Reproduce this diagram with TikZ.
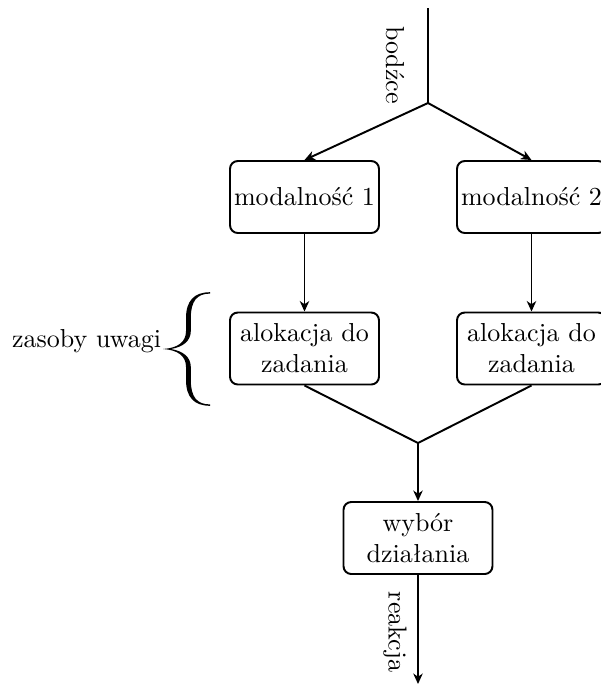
\documentclass[tikz,border=0pt]{standalone}
\usetikzlibrary{arrows.meta}
\begin{document}
\begin{tikzpicture}[x=0.3846pt,y=-0.3846pt, line width=0.75pt,
  >={Stealth[length=4pt, width=3.6pt, inset=1.2pt]},
  box/.style={draw, rounded corners=3pt, align=center, minimum width=57.3pt, minimum height=27.7pt, inner sep=1pt},
  lbl/.style={inner sep=0pt}]
\useasboundingbox (0,0) rectangle (600,686);
\coordinate (top) at (428,8);
\coordinate (split) at (428,103);
\node[box] (m1) at (304.5,197) {modalność 1};
\node[box] (m2) at (531.5,197) {modalność 2};
\node[box] (a1) at (304.5,348.5) {alokacja do\\zadania};
\node[box] (a2) at (531.5,348.5) {alokacja do\\zadania};
\coordinate (merge) at (418,443);
\node[box] (w) at (418,538) {wybór\\działania};
\coordinate (bottom) at (418,684);
\draw (top) -- (split);
\draw[->] (split) -- (m1.north);
\draw[->] (split) -- (m2.north);
\draw[->] (m1) -- (a1);
\draw[->] (m2) -- (a2);
\draw (a1.south) -- (merge) -- (a2.south);
\draw[->] (merge) -- (w);
\draw[->] (w) -- (bottom);
\node[lbl, rotate=-90] (lb) at (395,65) {bodźce};
\node[lbl, rotate=-90] (lr) at (395,632) {reakcja};
\node[lbl, anchor=base east] (zu) at (162,347) {zasoby uwagi};
% curly brace
\fill (210,292.2) .. controls (194,292.2) and (186,301) .. (186,318)
  -- (186,331) .. controls (186,342) and (178,348) .. (163,349)
  .. controls (178,350) and (186,356) .. (186,367)
  -- (186,380) .. controls (186,397) and (194,405.8) .. (210,405.8)
  -- (210,404.4) .. controls (197,404.4) and (190.8,397) .. (190.8,380)
  -- (190.8,367) .. controls (190.8,357) and (183,351) .. (171,349)
  .. controls (183,347) and (190.8,341) .. (190.8,331)
  -- (190.8,318) .. controls (190.8,301) and (197,293.6) .. (210,293.6) -- cycle;
\end{tikzpicture}
\end{document}
